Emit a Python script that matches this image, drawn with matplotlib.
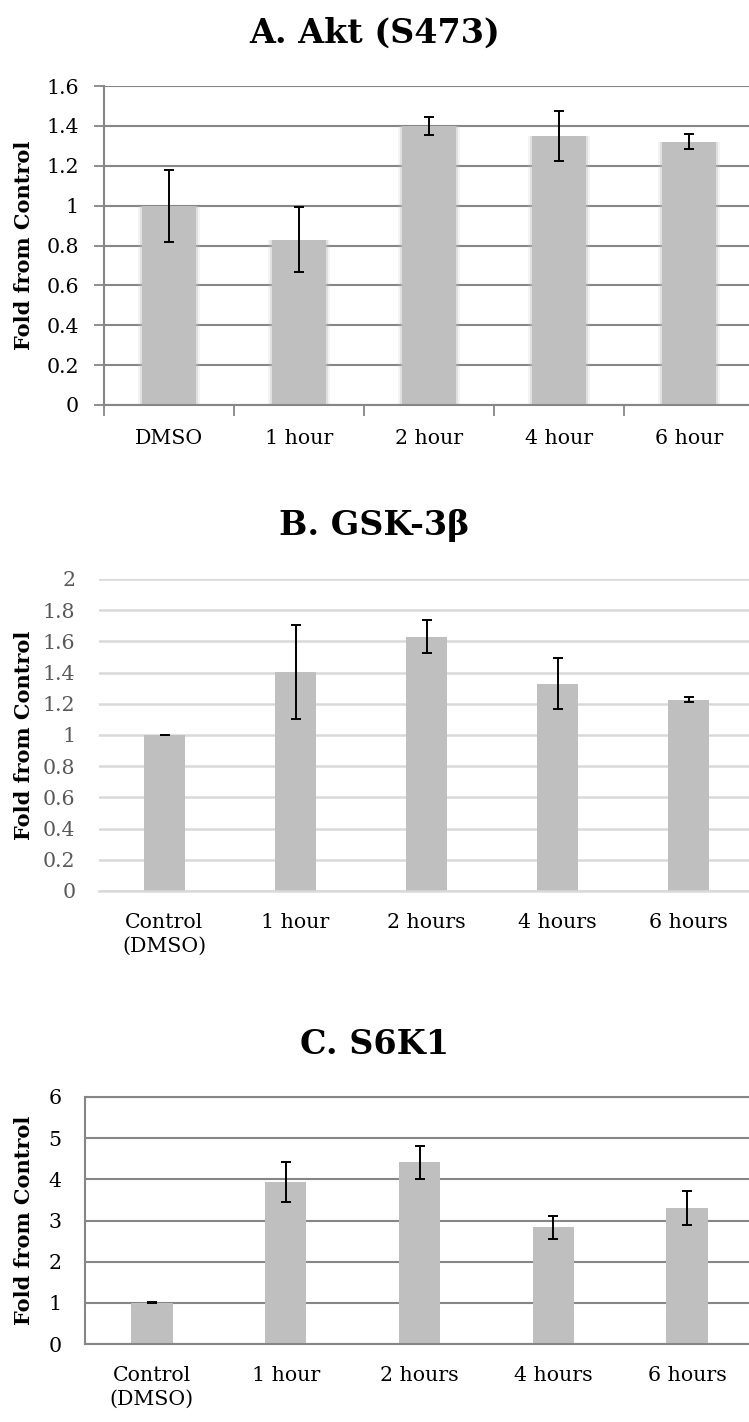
import matplotlib
matplotlib.use("Agg")
import matplotlib.pyplot as plt
import numpy as np

plt.rcParams["font.family"] = ["DejaVu Serif"]

# panel A
akt_labels = ["DMSO", "1 hour", "2 hour", "4 hour", "6 hour"]
akt_vals = [1.0, 0.83, 1.40, 1.35, 1.32]
akt_err = [0.18, 0.165, 0.045, 0.125, 0.037]

# panel B
gsk_labels = ["Control\n(DMSO)", "1 hour", "2 hours", "4 hours", "6 hours"]
gsk_vals = [1.0, 1.405, 1.63, 1.33, 1.225]
gsk_err = [0.002, 0.30, 0.107, 0.165, 0.016]

# panel C
s6k_labels = ["Control\n(DMSO)", "1 hour", "2 hours", "4 hours", "6 hours"]
s6k_vals = [1.0, 3.93, 4.41, 2.83, 3.30]
s6k_err = [0.01, 0.485, 0.41, 0.29, 0.42]

W, H = 749, 1422
fig = plt.figure(figsize=(W / 100, H / 100), dpi=100)

bar_c = "#BFBFBF"
dark = "#868686"
light = "#D9D9D9"
fs = 14.8


def ax_px(left, top, bottom, right=754):
    return fig.add_axes([left / W, 1 - bottom / H, (right - left) / W, (bottom - top) / H])


def bars(ax, vals, err, width):
    x = np.arange(len(vals))
    ax.bar(x, vals, width=width, color=bar_c, zorder=2)
    ax.errorbar(x, vals, yerr=err, fmt="none", ecolor="black", elinewidth=1.4,
                capsize=3.5, capthick=1.4, zorder=3)
    ax.set_xlim(-0.5, len(vals) - 0.5)
    return x


def title(y, s):
    fig.text(0.5, 1 - y / H, s, ha="center", va="center", fontsize=24,
             fontweight="bold")


def ylab(y0, y1):
    fig.text(24 / W, 1 - (y0 + y1) / 2 / H, "Fold from Control", rotation=90,
             ha="center", va="center", fontsize=15, fontweight="bold")


def xlabels(ax, x, labels, which="major"):
    ax.set_xticks(x, minor=(which == "minor"))
    ax.set_xticklabels(labels, minor=(which == "minor"), linespacing=1.3)


# ---- A ----
ax = ax_px(104, 86, 405)
x = np.arange(len(akt_vals))
# soft edge on the bars
for k, a in [(0.47, 0.18), (0.445, 0.35)]:
    ax.bar(x, akt_vals, width=k, color=bar_c, alpha=a, zorder=2, linewidth=0)
bars(ax, akt_vals, akt_err, 0.41)
ax.set_ylim(0, 1.6)
ax.set_yticks(np.arange(0, 1.61, 0.2))
ax.set_yticklabels(["0", "0.2", "0.4", "0.6", "0.8", "1", "1.2", "1.4", "1.6"])
ax.yaxis.grid(True, color=dark, lw=1.5, zorder=1)
ax.set_xticks(np.arange(-0.5, 4.6, 1))
ax.set_xticklabels([])
xlabels(ax, x, akt_labels, "minor")
ax.tick_params(axis="x", which="major", length=8, width=1.3, color=dark, direction="out")
ax.tick_params(axis="x", which="minor", length=0, pad=17, labelsize=fs)
ax.tick_params(axis="y", length=7, width=1.3, color=dark, pad=11, labelsize=fs)
for s in ["top", "right"]:
    ax.spines[s].set_visible(False)
for s in ["left", "bottom"]:
    ax.spines[s].set_color(dark)
    ax.spines[s].set_linewidth(1.5)
title(33, "A. Akt (S473)")
ylab(86, 405)

# ---- B ----
ax = ax_px(99, 579, 891)
x = bars(ax, gsk_vals, gsk_err, 0.31)
ax.set_ylim(0, 2)
ax.set_yticks(np.arange(0, 2.01, 0.2))
ax.set_yticklabels(["0", "0.2", "0.4", "0.6", "0.8", "1", "1.2", "1.4", "1.6", "1.8", "2"])
ax.yaxis.grid(True, color=light, lw=1.8, zorder=1)
xlabels(ax, x, gsk_labels)
ax.tick_params(axis="x", length=0, pad=16, labelsize=fs)
ax.tick_params(axis="y", length=0, pad=17, labelsize=fs, labelcolor="#595959")
for s in ["top", "right", "left"]:
    ax.spines[s].set_visible(False)
ax.spines["bottom"].set_color(light)
ax.spines["bottom"].set_linewidth(1.8)
title(525, "B. GSK-3β")
ylab(579, 891)

# ---- C ----
ax = ax_px(85, 1097, 1344)
x = bars(ax, s6k_vals, s6k_err, 0.31)
ax.set_ylim(0, 6)
ax.set_yticks(np.arange(0, 7, 1))
ax.yaxis.grid(True, color=dark, lw=1.5, zorder=1)
xlabels(ax, x, s6k_labels)
ax.tick_params(axis="x", length=0, pad=16, labelsize=fs)
ax.tick_params(axis="y", length=0, pad=17, labelsize=fs)
ax.spines["right"].set_visible(False)
for s in ["top", "left", "bottom"]:
    ax.spines[s].set_color(dark)
    ax.spines[s].set_linewidth(1.5)
title(1045, "C. S6K1")
ylab(1097, 1344)

fig.savefig("out.png", dpi=100)
